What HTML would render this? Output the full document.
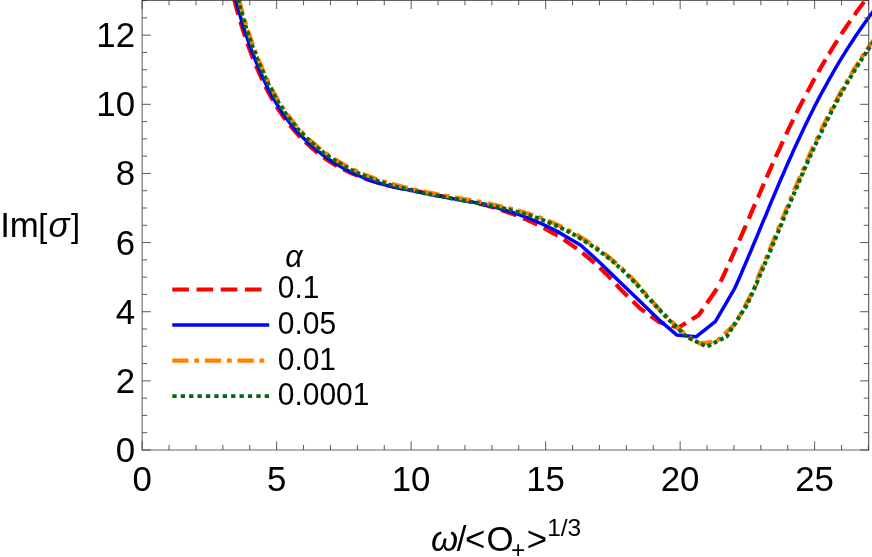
<!DOCTYPE html>
<html><head><meta charset="utf-8"><title>plot</title>
<style>
html,body{margin:0;padding:0;background:#fff;}
body{width:872px;height:557px;overflow:hidden;}
svg{display:block;}
text{font-family:"Liberation Sans",sans-serif;fill:#000;}
.t{filter:grayscale(1);}
</style></head><body>
<svg width="872" height="557" viewBox="0 0 872 557">
<rect x="0" y="0" width="872" height="557" fill="#fff"/>
<g fill="none" stroke-linejoin="round" stroke-linecap="butt">
<path d="M234.1 -1.3 L234.7 1.2 L235.9 5.9 L237.2 10.7 L238.3 14.6M240.3 21.7 L241.4 25.1 L242.9 29.9 L244.5 34.7 L245.1 36.7M247.5 43.4 L247.8 44.3 L249.5 49.1 L251.3 53.9 L253.2 58.6 L253.2 58.7M256.0 65.6 L257.0 68.0 L259.0 72.7 L261.1 77.3 L262.4 80.1M265.5 86.5 L267.8 91.0 L270.2 95.5 L272.7 100.0 L273.0 100.6M276.7 106.7 L277.9 108.6 L280.7 112.9 L283.6 117.0 L285.6 119.7M289.9 125.3 L293.0 129.0 L296.4 132.8 L299.8 136.6 L300.3 137.0M305.3 142.0 L307.1 143.7 L310.9 147.1 L314.7 150.4 L317.7 152.9M323.7 157.4 L326.9 159.7 L331.1 162.5 L335.5 165.1 L337.0 165.9M343.3 169.3 L344.4 169.8 L349.0 172.0 L353.6 174.1 L358.0 175.9M364.8 178.5 L367.6 179.5 L372.4 181.1 L377.2 182.6 L380.2 183.4M387.2 185.3 L391.8 186.3 L396.7 187.3 L401.7 188.2 L403.0 188.4M410.2 189.7 L411.6 189.9 L416.5 191.0 L421.4 192.1 L426.0 193.0M433.1 194.4 L436.2 195.0 L441.2 196.0 L446.1 196.9 L449.0 197.4M456.1 198.7 L460.9 199.5 L465.8 200.5 L470.7 201.6 L472.0 201.8M479.0 203.5 L480.4 203.9 L485.3 205.1 L490.1 206.5 L494.3 207.7M501.1 209.9 L504.4 211.0 L509.1 212.7 L513.8 214.4 L516.4 215.4M523.2 218.2 L527.7 220.1 L532.2 222.2 L536.7 224.3 L537.4 224.7M543.7 227.9 L545.6 228.9 L549.9 231.3 L554.3 233.8 L557.6 235.8M563.7 239.6 L567.0 241.7 L571.1 244.6 L575.2 247.5 L576.7 248.6M582.4 252.9 L583.2 253.5 L587.1 256.6 L590.9 259.8 L594.5 262.9M599.7 267.7 L602.1 269.9 L605.7 273.4 L609.2 277.0 L611.2 279.0M616.1 284.4 L619.3 288.0 L619.8 288.5 L627.6 296.2M632.9 301.3 L640.2 308.5 L644.9 311.9M650.8 316.1 L659.4 322.3 L664.7 323.8M671.7 325.8 L678.2 327.7 L685.9 323.0M691.9 319.3 L698.6 315.2 L702.9 309.0M706.9 303.3 L716.9 288.7M720.6 281.7 L721.7 279.4 L723.8 274.8 L725.9 270.3 L726.9 268.0M729.8 261.9 L730.1 261.2 L732.1 256.6 L734.1 252.1 L736.2 247.5 L736.3 247.2M739.2 240.5 L740.2 238.4 L742.2 233.8 L744.2 229.2 L745.8 225.5M748.8 218.7 L750.2 215.4 L752.1 210.8 L754.1 206.2 L755.0 204.1M757.9 197.5 L758.1 197.1 L760.1 192.5 L762.1 187.9 L763.9 183.7M766.6 177.5 L768.1 174.1 L770.1 169.6 L772.1 165.0 L772.9 163.4M775.7 157.0 L776.2 155.9 L778.3 151.3 L780.4 146.8 L782.5 142.2 L782.9 141.3M786.2 134.3 L786.7 133.2 L788.8 128.7 L791.0 124.2 L793.2 119.8M796.4 113.2 L797.6 110.7 L799.9 106.3 L802.2 101.8 L803.8 98.7M807.2 92.2 L809.2 88.6 L811.5 84.2 L813.9 79.8 L814.8 78.3M818.3 72.1 L818.8 71.1 L821.3 66.7 L823.8 62.4 L825.6 59.5M828.9 53.9 L829.0 53.8 L831.6 49.6 L834.2 45.3 L836.9 41.1 L837.4 40.3M841.4 34.2 L842.3 32.7 L845.1 28.5 L847.9 24.4 L850.3 20.9M854.5 15.0 L856.5 12.1 L859.5 8.1 L862.5 4.0 L864.1 1.8M868.6 -4.1 L870.6 -6.6" stroke="#ff0000" stroke-width="4.2"/>
<path d="M234.0 -8.6 L235.0 -3.9 L236.2 0.8 L237.4 5.6 L238.6 10.3 L240.0 15.1 L241.3 19.9 L242.8 24.7 L244.3 29.5 L245.9 34.3 L247.5 39.0 L249.2 43.8 L250.9 48.6 L252.7 53.3 L254.6 58.0 L256.5 62.8 L258.4 67.4 L260.4 72.1 L262.5 76.7 L264.6 81.3 L266.8 85.9 L269.1 90.4 L271.5 94.8 L274.0 99.2 L276.5 103.5 L279.2 107.8 L281.9 112.0 L284.8 116.1 L287.8 120.2 L290.9 124.2 L294.1 128.0 L297.5 131.8 L300.9 135.5 L304.5 139.1 L308.1 142.6 L311.9 146.0 L315.7 149.3 L319.6 152.4 L323.6 155.5 L327.7 158.4 L331.9 161.3 L336.2 164.0 L340.5 166.5 L344.9 169.0 L349.3 171.3 L353.9 173.4 L358.4 175.5 L363.0 177.5 L367.7 179.3 L372.4 181.0 L377.2 182.6 L382.0 184.1 L386.8 185.4 L391.7 186.6 L396.7 187.7 L401.6 188.7 L406.6 189.5 L411.5 190.4 L416.4 191.5 L421.3 192.6 L426.2 193.6 L431.2 194.6 L436.1 195.5 L441.1 196.4 L446.0 197.4 L450.9 198.4 L455.9 199.1 L460.8 199.9 L465.8 200.7 L470.7 201.6 L475.6 202.6 L480.5 203.7 L485.3 204.8 L490.2 206.0 L495.0 207.2 L499.9 208.5 L504.6 210.0 L509.4 211.4 L514.2 213.0 L518.9 214.6 L523.6 216.3 L528.3 218.1 L532.9 220.0 L537.5 221.9 L542.1 224.0 L546.6 226.1 L551.1 228.3 L555.6 230.5 L560.0 232.9 L560.8 233.4 L580.8 245.3 L599.5 262.2 L618.8 281.0 L638.1 299.6 L658.5 319.3 L677.0 335.1 L696.0 336.8 L715.5 321.3 L734.7 288.3 L736.8 283.7 L738.8 279.2 L740.8 274.6 L742.7 270.0 L744.7 265.4 L746.7 260.8 L748.6 256.2 L750.6 251.6 L752.5 247.0 L754.4 242.4 L756.4 237.8 L758.3 233.1 L760.2 228.5 L762.1 223.9 L764.0 219.3 L766.0 214.7 L767.9 210.1 L769.8 205.4 L771.7 200.8 L773.7 196.2 L775.6 191.6 L777.6 187.0 L779.5 182.4 L781.5 177.8 L783.5 173.2 L785.5 168.6 L787.5 164.0 L789.5 159.5 L791.6 154.9 L793.6 150.3 L795.7 145.8 L797.8 141.2 L799.9 136.7 L802.0 132.2 L804.1 127.7 L806.3 123.2 L808.5 118.7 L810.7 114.2 L813.0 109.7 L815.2 105.3 L817.5 100.9 L819.8 96.4 L822.2 92.0 L824.6 87.6 L827.0 83.3 L829.4 78.9 L831.9 74.6 L834.4 70.2 L836.9 65.9 L839.4 61.6 L842.0 57.4 L844.7 53.1 L847.3 48.9 L850.0 44.7 L852.8 40.5 L855.5 36.3 L858.3 32.2 L861.2 28.1 L864.0 24.0 L867.0 19.9 L869.9 15.8 L872.9 11.8 L875.9 7.8 L878.6 4.4" stroke="#0000ff" stroke-width="3.5"/>
<path d="M237.0 -9.3 L237.5 -7.0M238.8 -1.4 L239.2 0.1 L240.4 4.8 L241.6 9.5 L242.9 14.3 L242.9 14.3M244.6 19.9 L245.8 23.8 L246.0 24.5M247.7 30.0 L248.8 33.3 L250.4 38.0 L252.1 42.8 L252.8 44.7M254.7 49.9 L255.6 52.2 L256.4 54.2M258.4 59.3 L259.3 61.6 L261.3 66.2 L263.2 70.8 L264.4 73.5M266.7 78.4 L267.4 80.0 L268.7 82.5M271.1 87.5 L271.9 88.9 L274.2 93.3 L276.6 97.7 L278.6 101.0M281.5 105.7 L281.8 106.1 L284.0 109.6M287.2 114.1 L287.3 114.3 L290.3 118.3 L293.3 122.2 L296.5 126.0 L297.2 126.8M301.1 131.1 L303.2 133.4 L304.4 134.6M308.5 138.7 L310.3 140.3 L314.0 143.6 L317.7 146.8 L320.8 149.3M325.5 152.8 L325.6 152.9 L329.4 155.6M334.3 158.9 L337.9 161.1 L342.1 163.6 L346.5 166.0 L348.1 166.9M353.2 169.4 L355.3 170.4 L357.5 171.4M362.7 173.7 L364.3 174.4 L368.9 176.2 L373.6 178.0 L377.1 179.2M382.4 181.0 L383.0 181.2 L386.7 182.3M392.0 183.9 L392.5 184.0 L397.3 185.3 L402.1 186.6 L407.0 187.8 L407.8 188.0M413.4 189.3 L416.7 190.1 L418.1 190.4M423.8 191.6 L426.5 192.1 L431.5 193.1 L436.4 194.1 L439.3 194.6M444.8 195.6 L446.3 195.9 L449.4 196.4M455.0 197.4 L456.2 197.6 L461.1 198.5 L466.1 199.4 L471.0 200.3M476.7 201.4 L480.9 202.1 L481.5 202.2M487.2 203.4 L490.7 204.1 L495.6 205.1 L500.5 206.2 L502.6 206.7M508.1 208.0 L510.3 208.5 L512.6 209.1M518.0 210.5 L519.9 211.0 L524.7 212.4 L529.5 213.9 L533.0 215.0M538.3 216.9 L538.9 217.1 L542.6 218.5M547.9 220.5 L548.2 220.7 L552.8 222.6 L557.4 224.6 L561.9 226.8 L562.3 226.9M567.3 229.5 L570.8 231.4 L571.4 231.7M576.3 234.5 L579.5 236.4 L583.8 239.1 L588.0 241.8 L590.4 243.4M595.3 246.8 L596.3 247.5 L599.3 249.7M604.1 253.3 L604.4 253.5 L608.3 256.7 L612.2 259.9 L616.0 263.2 L616.7 263.8M621.1 267.8 L623.4 270.0 L624.6 271.1M628.8 275.2 L630.6 277.0 L634.1 280.6 L637.6 284.3 L639.9 287.0M643.7 291.4 L644.2 291.9 L646.8 295.1M650.6 299.5 L658.4 308.3 L660.8 310.7M664.6 314.5 L667.8 317.6M671.6 321.5 L677.7 327.5 L684.3 333.0M689.1 336.9 L693.0 340.2M697.9 343.4 L712.5 342.0M717.3 340.6 L720.5 337.7M724.3 334.1 L735.6 323.5 L736.2 322.4M739.0 317.1 L741.4 312.8M744.2 307.5 L751.5 293.8M754.2 288.9 L754.9 287.5 L755.7 284.6M757.2 279.2 L757.3 278.9 L759.2 274.3 L761.2 269.7 L763.1 265.1 L763.2 264.9M765.4 259.8 L767.0 255.9 L767.2 255.5M769.3 250.4 L770.8 246.7 L772.8 242.1 L774.7 237.4 L775.5 235.4M777.7 230.0 L778.5 228.2 L779.6 225.5M781.8 220.1 L782.3 218.9 L784.2 214.3 L786.1 209.7 L787.9 205.4M790.1 200.1 L791.9 195.8 L791.9 195.8M794.1 190.5 L795.8 186.6 L797.7 182.0 L799.7 177.4 L800.2 176.2M802.4 171.1 L803.7 168.2 L804.2 166.9M806.5 161.8 L807.7 159.1 L809.7 154.5 L811.8 150.0 L813.4 146.4M816.0 140.9 L816.0 140.9 L818.1 136.4 L818.1 136.4M820.7 130.9 L822.4 127.4 L824.6 122.9 L826.9 118.4 L827.7 116.7M830.3 111.7 L831.4 109.5 L832.4 107.5M835.1 102.5 L836.1 100.7 L838.4 96.3 L840.8 91.9 L842.8 88.4M845.7 83.4 L845.8 83.2 L848.1 79.3M851.0 74.4 L853.4 70.4 L856.1 66.1 L858.7 62.0M861.5 57.7 L861.5 57.7 L863.8 54.1M866.7 49.8 L867.1 49.3 L869.9 45.2 L872.8 41.1 L875.8 37.0 L876.1 36.6" stroke="#ff8000" stroke-width="4.2"/>
<path d="M236.6 -7.1 L237.2 -4.4 L237.4 -3.3M238.1 -0.4 L238.3 0.3 L239.0 3.0M239.6 5.4 L240.5 8.9M241.3 11.8 L242.1 14.5 L242.4 15.7M243.2 18.5 L243.5 19.3 L244.4 22.3M245.2 25.0 L246.4 28.7M247.3 31.5 L248.0 33.6 L248.5 35.2M249.5 37.9 L249.6 38.3 L250.8 41.6M251.7 44.4 L253.0 47.8 L253.1 48.0M254.1 50.7 L254.8 52.5 L255.5 54.3M256.5 57.0 L256.6 57.2 L258.0 60.7M259.1 63.4 L260.4 66.6 L260.6 67.0M261.8 69.7 L262.4 71.2 L263.3 73.2M264.5 75.8 L266.1 79.4M267.4 82.0 L268.8 84.9 L269.1 85.5M270.4 88.1 L271.1 89.3 L272.3 91.6M273.7 94.2 L275.6 97.7M277.1 100.3 L278.4 102.4 L279.2 103.6M280.7 106.1 L281.0 106.6 L282.8 109.3M284.4 111.7 L286.6 114.9 L286.6 114.9M288.4 117.3 L289.6 118.9 L290.8 120.4M292.6 122.8 L292.6 122.8 L295.1 125.8M297.0 128.0 L299.1 130.4 L299.6 130.9M301.5 133.0 L302.5 134.0 L304.3 135.8M306.4 137.9 L309.2 140.6M311.4 142.6 L313.3 144.3 L314.3 145.2M316.5 147.1 L317.1 147.6 L319.5 149.5M321.7 151.2 L324.7 153.6M327.1 155.3 L329.0 156.6 L330.3 157.5M332.8 159.2 L333.1 159.4 L336.1 161.4M338.6 162.8 L341.6 164.6 L341.9 164.8M344.4 166.2 L345.9 167.1 L347.9 168.1M350.5 169.5 L354.0 171.2M356.5 172.3 L359.3 173.6 L360.0 173.9M362.7 175.1 L363.8 175.6 L366.3 176.6M369.1 177.7 L372.8 179.1M375.5 180.1 L377.8 180.9 L379.2 181.4M381.9 182.3 L382.5 182.5 L385.7 183.5M388.6 184.4 L392.1 185.4 L392.3 185.5M395.0 186.2 L396.9 186.8 L398.8 187.3M401.7 188.0 L401.8 188.0 L405.5 189.0M408.4 189.7 L411.5 190.4 L412.2 190.6M415.1 191.2 L416.4 191.5 L418.9 192.1M421.7 192.7 L425.6 193.5M428.4 194.0 L431.2 194.6 L432.2 194.8M435.1 195.3 L436.1 195.5 L439.0 196.1M441.9 196.6 L445.8 197.3M448.6 197.8 L451.0 198.2 L452.4 198.5M455.2 199.0 L455.9 199.1 L459.0 199.7M461.9 200.2 L465.8 200.9M468.7 201.4 L470.8 201.8 L472.6 202.1M475.5 202.6 L475.7 202.7 L479.4 203.4M482.2 203.9 L485.5 204.6 L486.0 204.7M488.9 205.2 L490.4 205.6 L492.7 206.0M495.5 206.6 L499.3 207.5M502.1 208.1 L505.1 208.8 L506.0 209.0M508.8 209.7 L509.9 210.0 L512.6 210.7M515.5 211.4 L519.3 212.4M522.1 213.2 L524.3 213.9 L525.8 214.3M528.5 215.2 L529.0 215.3 L532.2 216.4M535.0 217.3 L538.4 218.5 L538.7 218.6M541.5 219.6 L543.1 220.2 L545.1 221.0M547.8 222.1 L551.5 223.6M554.3 224.9 L556.8 226.0 L557.9 226.5M560.5 227.7 L561.3 228.1 L564.0 229.4M566.5 230.7 L569.9 232.5M572.4 233.9 L574.6 235.0 L575.7 235.7M578.2 237.1 L578.9 237.5 L581.6 239.2M584.1 240.7 L587.4 242.8 L587.6 242.9M590.1 244.5 L591.6 245.6 L593.3 246.8M595.7 248.4 L598.9 250.7M601.2 252.4 L603.8 254.3 L604.2 254.7M606.5 256.5 L607.7 257.4 L609.6 258.9M611.9 260.8 L614.8 263.3M616.8 265.0 L619.2 267.2 L619.6 267.5M621.8 269.6 L622.9 270.6 L624.7 272.3M626.9 274.4 L629.7 277.2M631.8 279.4 L633.6 281.2 L634.6 282.3M636.6 284.5 L637.0 284.9 L639.3 287.5M641.2 289.7 L643.6 292.4 L643.8 292.6M645.6 294.8 L646.7 296.3 L648.1 297.7M650.1 299.8 L652.8 302.7M654.8 304.8 L657.4 307.7M659.3 309.7 L662.0 312.5M664.0 314.7 L666.6 317.5M668.7 319.6 L671.5 322.4M673.7 324.4 L676.6 327.1M678.7 329.2 L681.6 331.9M683.7 333.9 L686.5 336.6M688.9 338.0 L692.3 339.7M695.0 341.0 L698.5 342.7M701.1 344.0 L704.8 345.7M707.5 346.3 L711.1 344.5M713.7 343.2 L717.2 341.3M720.0 339.9 L723.5 338.1M726.0 336.8 L726.6 336.5 L728.4 333.8M729.9 331.3 L732.1 328.0M733.6 325.6 L735.7 322.4M737.3 319.9 L739.4 316.6M741.0 314.1 L743.2 310.7M744.7 308.3 L746.1 306.2 L746.8 304.9M748.1 302.3 L748.4 301.7 L749.7 298.7M750.9 296.1 L752.5 292.6 L752.5 292.6M753.7 289.8 L754.5 288.0 L755.3 286.2M756.4 283.5 L756.5 283.5 L758.0 279.9M759.2 277.2 L760.4 274.3 L760.7 273.6M761.9 270.9 L762.4 269.7 L763.4 267.4M764.4 264.9 L765.9 261.3M767.1 258.6 L768.2 255.9 L768.6 255.0M769.7 252.3 L770.1 251.3 L771.3 248.6M772.4 245.8 L773.9 242.2M775.0 239.6 L775.9 237.4 L776.5 236.0M777.6 233.2 L777.8 232.8 L779.1 229.6M780.2 226.9 L781.6 223.6 L781.7 223.2M782.8 220.5 L783.5 218.9 L784.3 216.9M785.4 214.2 L786.9 210.5M788.1 207.8 L789.2 205.1 L789.6 204.2M790.7 201.5 L791.1 200.4 L792.2 197.9M793.3 195.2 L794.9 191.6M796.0 188.9 L797.0 186.6 L797.5 185.3M798.7 182.6 L798.9 182.0 L800.2 178.9M801.4 176.3 L802.9 172.8 L802.9 172.6M804.1 170.0 L804.9 168.2 L805.7 166.4M806.8 163.8 L806.9 163.6 L808.4 160.2M809.6 157.5 L810.9 154.5 L811.2 153.9M812.4 151.2 L813.0 150.0 L814.0 147.7M815.2 145.1 L816.9 141.6M818.1 138.9 L819.3 136.4 L819.8 135.4M821.0 132.8 L821.5 131.9 L822.7 129.3M824.0 126.6 L825.7 123.1M827.0 120.5 L828.1 118.4 L828.8 117.0M830.1 114.4 L830.3 114.0 L831.9 110.9M833.2 108.3 L834.9 105.1 L835.1 104.8M836.4 102.2 L837.3 100.7 L838.3 98.8M839.7 96.2 L841.6 92.8M843.0 90.2 L844.5 87.6 L844.9 86.8M846.4 84.3 L847.0 83.2 L848.4 80.9M849.8 78.4 L851.8 75.0M853.4 72.5 L854.6 70.4 L855.4 69.1M856.9 66.7 L857.3 66.1 L859.0 63.4M860.5 61.1 L862.5 57.9M864.2 55.5 L865.5 53.5 L866.2 52.3M867.7 50.1 L868.3 49.3 L869.9 47.0M871.5 44.6 L873.8 41.5M875.5 39.1 L877.0 37.0 L877.6 36.2" stroke="#006b0c" stroke-width="4.1"/>
</g>
<path d="M142.15 0.3V450.0H868.7" fill="none" stroke="#6a6a6a" stroke-width="1.1"/>
<path d="M868.7 450.5V0.3" fill="none" stroke="#4e4e4e" stroke-width="1.05"/>
<path d="M142.15 450.00V441.30M142.15 0.30V9.00M169.05 450.00V445.00M169.05 0.30V5.30M195.95 450.00V445.00M195.95 0.30V5.30M222.85 450.00V445.00M222.85 0.30V5.30M249.75 450.00V445.00M249.75 0.30V5.30M276.65 450.00V441.30M276.65 0.30V9.00M303.55 450.00V445.00M303.55 0.30V5.30M330.45 450.00V445.00M330.45 0.30V5.30M357.35 450.00V445.00M357.35 0.30V5.30M384.25 450.00V445.00M384.25 0.30V5.30M411.15 450.00V441.30M411.15 0.30V9.00M438.05 450.00V445.00M438.05 0.30V5.30M464.95 450.00V445.00M464.95 0.30V5.30M491.85 450.00V445.00M491.85 0.30V5.30M518.75 450.00V445.00M518.75 0.30V5.30M545.65 450.00V441.30M545.65 0.30V9.00M572.55 450.00V445.00M572.55 0.30V5.30M599.45 450.00V445.00M599.45 0.30V5.30M626.35 450.00V445.00M626.35 0.30V5.30M653.25 450.00V445.00M653.25 0.30V5.30M680.15 450.00V441.30M680.15 0.30V9.00M707.05 450.00V445.00M707.05 0.30V5.30M733.95 450.00V445.00M733.95 0.30V5.30M760.85 450.00V445.00M760.85 0.30V5.30M787.75 450.00V445.00M787.75 0.30V5.30M814.65 450.00V441.30M814.65 0.30V9.00M841.55 450.00V445.00M841.55 0.30V5.30M868.45 450.00V445.00M868.45 0.30V5.30M142.15 450.00H150.85M868.70 450.00H860.00M142.15 432.71H147.15M868.70 432.71H863.70M142.15 415.43H147.15M868.70 415.43H863.70M142.15 398.14H147.15M868.70 398.14H863.70M142.15 380.86H150.85M868.70 380.86H860.00M142.15 363.57H147.15M868.70 363.57H863.70M142.15 346.29H147.15M868.70 346.29H863.70M142.15 329.00H147.15M868.70 329.00H863.70M142.15 311.72H150.85M868.70 311.72H860.00M142.15 294.44H147.15M868.70 294.44H863.70M142.15 277.15H147.15M868.70 277.15H863.70M142.15 259.87H147.15M868.70 259.87H863.70M142.15 242.58H150.85M868.70 242.58H860.00M142.15 225.29H147.15M868.70 225.29H863.70M142.15 208.01H147.15M868.70 208.01H863.70M142.15 190.73H147.15M868.70 190.73H863.70M142.15 173.44H150.85M868.70 173.44H860.00M142.15 156.15H147.15M868.70 156.15H863.70M142.15 138.87H147.15M868.70 138.87H863.70M142.15 121.58H147.15M868.70 121.58H863.70M142.15 104.30H150.85M868.70 104.30H860.00M142.15 87.01H147.15M868.70 87.01H863.70M142.15 69.73H147.15M868.70 69.73H863.70M142.15 52.44H147.15M868.70 52.44H863.70M142.15 35.16H150.85M868.70 35.16H860.00M142.15 17.88H147.15M868.70 17.88H863.70M142.15 0.59H147.15M868.70 0.59H863.70" fill="none" stroke="#3c3c3c" stroke-width="0.85"/>
<path d="M141.65 0.35H869.2" stroke="#333" stroke-width="0.9" fill="none"/>
<g class="t" font-size="34.8"><text x="142.2" y="491.2" text-anchor="middle">0</text><text x="276.6" y="491.2" text-anchor="middle">5</text><text x="411.1" y="491.2" text-anchor="middle">10</text><text x="545.6" y="491.2" text-anchor="middle">15</text><text x="680.1" y="491.2" text-anchor="middle">20</text><text x="814.6" y="491.2" text-anchor="middle">25</text><text x="135" y="461.9" text-anchor="end">0</text><text x="135" y="392.8" text-anchor="end">2</text><text x="135" y="323.6" text-anchor="end">4</text><text x="135" y="254.5" text-anchor="end">6</text><text x="135" y="185.3" text-anchor="end">8</text><text x="135" y="116.2" text-anchor="end">10</text><text x="135" y="47.1" text-anchor="end">12</text>
<text x="0.2" y="237.2">Im<tspan font-size="32.6" dy="-0.7" dx="-0.6">[</tspan><tspan font-style="italic" dy="0.7" dx="1.2">σ</tspan><tspan font-size="32.6" dy="-0.7" dx="1.4">]</tspan></text>
<text y="551"><tspan x="431.1" font-style="italic">ω</tspan><tspan x="456.7">/</tspan><tspan x="465.1">&lt;</tspan><tspan x="486.4">O</tspan><tspan x="526.8">&gt;</tspan></text>
<text font-size="24.5" x="510.9" y="557.5">+</text>
<text font-size="24.5" x="547.2" y="536.4">1/3</text>
</g>
<g fill="none">
<path d="M172.3 289.5H262" stroke="#ff0000" stroke-width="4.2" stroke-dasharray="16.6 7.6"/>
<path d="M172.3 325H269.2" stroke="#0000ff" stroke-width="3.5"/>
<path d="M172.3 360.6H264.2" stroke="#ff8000" stroke-width="4.2" stroke-dasharray="16.2 5.8 4.8 5.8"/>
<path d="M172.3 396.1H269.5" stroke="#006b0c" stroke-width="3.6" stroke-dasharray="4.3 4.1"/>
</g>
<g class="t" font-size="30.5">
<text x="285.3" y="266.8" font-style="italic">α</text>
<text x="277.8" y="298.3" textLength="41.5" lengthAdjust="spacingAndGlyphs">0.1</text>
<text x="277.8" y="333.9" textLength="58.4" lengthAdjust="spacingAndGlyphs">0.05</text>
<text x="277.8" y="369.5" textLength="58.2" lengthAdjust="spacingAndGlyphs">0.01</text>
<text x="277.8" y="405.1" textLength="91.6" lengthAdjust="spacingAndGlyphs">0.0001</text>
</g>
</svg>
</body></html>
